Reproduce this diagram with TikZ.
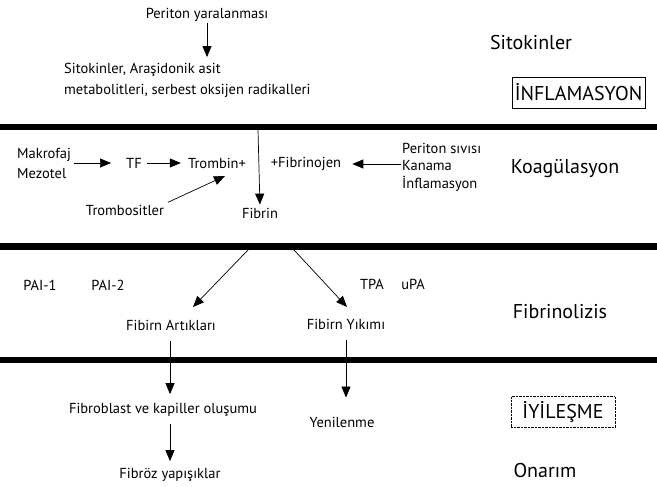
\documentclass[tikz,border=0pt]{standalone}
\usepackage{fontspec}
\setmainfont{PT Sans}
\usetikzlibrary{arrows.meta}
\begin{document}
\begin{tikzpicture}[x=1pt, y=-1pt,
  txt/.style={font=\fontsize{14.5}{20}\selectfont, inner sep=1pt},
  phase/.style={font=\fontsize{20}{22}\selectfont, inner sep=1pt},
  arr/.style={-{Triangle[width=9pt,length=11pt]}, line width=0.7pt},
  bar/.style={line width=6.5pt}]
\useasboundingbox (0,0) rectangle (657,487);

% Inflammation
\node[txt] (injury) at (207,15) {Periton yaralanması};
\node[txt, anchor=west, align=left, font=\fontsize{14.5}{21}\selectfont] (cyto) at (63,80.5) {Sitokinler, Araşidonik asit\\metabolitleri, serbest oksijen radikalleri};
\draw[arr, shorten >=5pt] (injury) -- (injury.south |- cyto.north);
\node[phase] (cytolbl) at (531,43) {Sitokinler};
\node[phase, draw, thin, minimum width=133pt, minimum height=31pt] (inflam) at (578.5,92.5) {İNFLAMASYON};

% Separating bars
\draw[bar] (0,127) -- (657,127);
\draw[bar] (0,246.5) -- (657,246.5);
\draw[bar] (0,360) -- (657,360);

% Coagulation
\node[txt, align=left, anchor=west] (macro) at (16,163) {Makrofaj\\Mezotel};
\node[txt] (tf) at (134,163) {TF};
\node[txt] (thrombin) at (217,163) {Trombin+};
\node[txt] (fibrinogen) at (306,164) {+Fibrinojen};
\node[txt, align=left, anchor=west, font=\fontsize{14.5}{17.5}\selectfont] (sources) at (401,167) {Periton sıvısı\\Kanama\\İnflamasyon};
\node[txt] (platelet) at (125,210) {Trombositler};
\node[txt] (fibrin) at (260,213) {Fibrin};
\node[phase] (coaglbl) at (565,169) {Koagülasyon};
\coordinate (fibtop) at (258,130);
\coordinate (plttip) at (225,176);
\draw[arr, shorten <=2pt, shorten >=14pt] (macro) -- (tf);
\draw[arr, shorten <=4pt, shorten >=6pt] (tf) -- (thrombin);
\draw[arr, shorten >=10pt] (sources.west |- fibrinogen) -- (fibrinogen);
\draw[arr, shorten <=3pt] (platelet.north east) -- (plttip);
\draw[arr, shorten >=2pt] (fibtop) -- (fibrin.north);

% Fibrinolysis
\node[txt] (pai1) at (40,285) {PAI-1};
\node[txt] (pai2) at (108,285) {PAI-2};
\node[txt] (tpa) at (372,284) {TPA};
\node[txt] (upa) at (413,284) {uPA};
\node[txt] (debris) at (171,325) {Fibirn Artıkları};
\node[txt] (degrad) at (346,324) {Fibirn Yıkımı};
\node[phase] (lysislbl) at (560,312) {Fibrinolizis};
\coordinate (lysl) at (248,250);
\coordinate (lysr) at (294,250);
\coordinate (debrtip) at (193,307);
\coordinate (degrtip) at (347,307);
\draw[arr] (lysl) -- (debrtip);
\draw[arr] (lysr) -- (degrtip);

% Repair
\node[txt] (fibro) at (163,410) {Fibroblast ve kapiller oluşumu};
\node[txt] (renew) at (342,422) {Yenilenme};
\node[txt] (adhes) at (170,475) {Fibröz yapışıklar};
\node[phase, draw, thin, densely dotted, minimum width=104pt, minimum height=31pt] (heal) at (563,412) {İYİLEŞME};
\node[phase] (repairlbl) at (545,470) {Onarım};
\draw[arr, shorten <=10pt, shorten >=8pt] (debris.south -| adhes) -- (fibro.north -| adhes);
\draw[arr, shorten <=10pt, shorten >=18pt] (degrad.south) -- (degrad.south |- renew.north);
\draw[arr, shorten <=6pt, shorten >=6pt] (fibro.south -| adhes) -- (adhes);
\end{tikzpicture}
\end{document}
